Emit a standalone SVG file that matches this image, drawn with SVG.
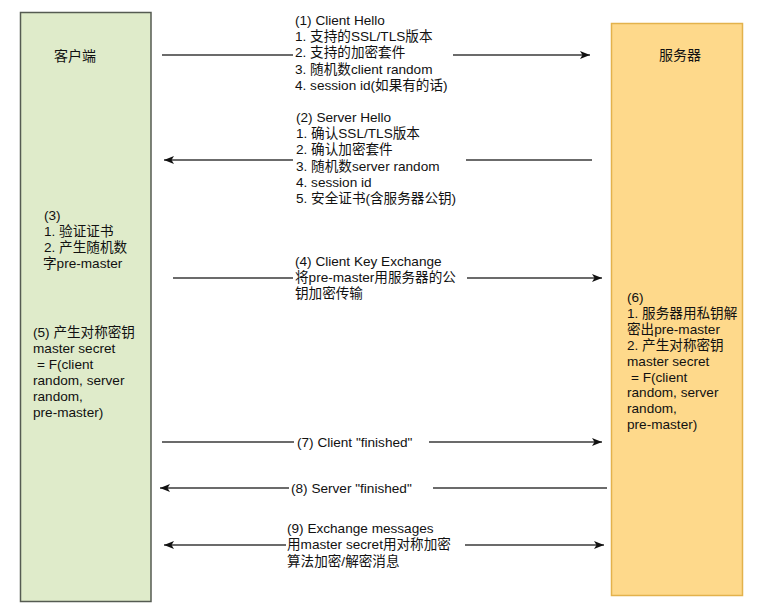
<svg xmlns="http://www.w3.org/2000/svg" width="769" height="616" viewBox="0 0 769 616">
  <style>
    .lbl { font-family: "Liberation Sans", "Noto Sans CJK SC", sans-serif; font-size: 13.6px; fill: #111; }
    .title { font-family: "Liberation Sans", "Noto Sans CJK SC", sans-serif; font-size: 14px; fill: #111; text-anchor: middle; }
    .edge { stroke: #3a3a3a; stroke-width: 1.3; fill: none; }
  </style>
  <defs>
    <marker id="arrowEnd" markerUnits="userSpaceOnUse" markerWidth="12" markerHeight="10" refX="10" refY="4.5" orient="auto">
      <path d="M0,0.5 L10,4.5 L0,8.5 L2.5,4.5 Z" fill="#111"/>
    </marker>
    <marker id="arrowStart" markerUnits="userSpaceOnUse" markerWidth="12" markerHeight="10" refX="0" refY="4.5" orient="auto">
      <path d="M10,0.5 L0,4.5 L10,8.5 L7.5,4.5 Z" fill="#111"/>
    </marker>
  </defs>

  <rect width="769" height="616" fill="#ffffff"/>

  <!-- client column -->
  <g id="client">
    <rect x="20.5" y="12.5" width="130.5" height="589" fill="#dfebca" stroke="#555b52" stroke-width="1.5"/>
    <text class="title" x="75" y="61">客户端</text>
    <text class="lbl" x="44" y="219.5">
      <tspan x="44" y="219.5">(3)</tspan>
      <tspan x="44" y="235.7">1. 验证证书</tspan>
      <tspan x="44" y="251.9">2. 产生随机数</tspan>
      <tspan x="43" y="268.1">字pre-master</tspan>
    </text>
    <text class="lbl" x="33" y="337">
      <tspan x="33" y="337">(5) 产生对称密钥</tspan>
      <tspan x="33" y="353">master secret</tspan>
      <tspan x="37" y="369">= F(client</tspan>
      <tspan x="33" y="385">random, server</tspan>
      <tspan x="33" y="401">random,</tspan>
      <tspan x="33" y="417">pre-master)</tspan>
    </text>
  </g>

  <!-- server column -->
  <g id="server">
    <rect x="611.5" y="23.5" width="131" height="572" fill="#fed98b" stroke="#e3b24c" stroke-width="1.5"/>
    <text class="title" x="680" y="60">服务器</text>
    <text class="lbl" x="627" y="302">
      <tspan x="627" y="302">(6)</tspan>
      <tspan x="627" y="317.9">1. 服务器用私钥解</tspan>
      <tspan x="627" y="333.8">密出pre-master</tspan>
      <tspan x="627" y="349.7">2. 产生对称密钥</tspan>
      <tspan x="627" y="365.6">master secret</tspan>
      <tspan x="631" y="381.5">= F(client</tspan>
      <tspan x="627" y="397.4">random, server</tspan>
      <tspan x="627" y="413.3">random,</tspan>
      <tspan x="627" y="429.2">pre-master)</tspan>
    </text>
  </g>

  <!-- message connectors -->
  <g id="connectors">
    <line class="edge" x1="162" y1="55" x2="293" y2="55"/>
    <line class="edge" x1="453" y1="55" x2="590" y2="55" marker-end="url(#arrowEnd)"/>

    <line class="edge" x1="164" y1="160" x2="293" y2="160" marker-start="url(#arrowStart)"/>
    <line class="edge" x1="466" y1="160" x2="592" y2="160"/>

    <line class="edge" x1="173" y1="278" x2="293" y2="278"/>
    <line class="edge" x1="467" y1="278" x2="602" y2="278" marker-end="url(#arrowEnd)"/>

    <line class="edge" x1="162" y1="442" x2="294" y2="442"/>
    <line class="edge" x1="429" y1="442" x2="602" y2="442" marker-end="url(#arrowEnd)"/>

    <line class="edge" x1="160" y1="488" x2="289" y2="488" marker-start="url(#arrowStart)"/>
    <line class="edge" x1="433" y1="488" x2="607" y2="488"/>

    <line class="edge" x1="164" y1="545" x2="286" y2="545" marker-start="url(#arrowStart)"/>
    <line class="edge" x1="465" y1="545" x2="604" y2="545" marker-end="url(#arrowEnd)"/>
  </g>

  <!-- connector labels -->
  <g id="labels">
    <text class="lbl">
      <tspan x="295" y="25">(1) Client Hello</tspan>
      <tspan x="295" y="41.2">1. 支持的SSL/TLS版本</tspan>
      <tspan x="295" y="57.4">2. 支持的加密套件</tspan>
      <tspan x="295" y="73.6">3. 随机数client random</tspan>
      <tspan x="295" y="89.8">4. session id(如果有的话)</tspan>
    </text>
    <text class="lbl">
      <tspan x="296" y="122">(2) Server Hello</tspan>
      <tspan x="296" y="138.2">1. 确认SSL/TLS版本</tspan>
      <tspan x="296" y="154.4">2. 确认加密套件</tspan>
      <tspan x="296" y="170.6">3. 随机数server random</tspan>
      <tspan x="296" y="186.8">4. session id</tspan>
      <tspan x="296" y="203">5. 安全证书(含服务器公钥)</tspan>
    </text>
    <text class="lbl">
      <tspan x="295" y="266">(4) Client Key Exchange</tspan>
      <tspan x="295" y="282.2">将pre-master用服务器的公</tspan>
      <tspan x="295" y="298.4">钥加密传输</tspan>
    </text>
    <text class="lbl" x="297" y="447">(7) Client "finished"</text>
    <text class="lbl" x="291" y="493">(8) Server "finished"</text>
    <text class="lbl">
      <tspan x="287" y="533">(9) Exchange messages</tspan>
      <tspan x="287" y="549.3">用master secret用对称加密</tspan>
      <tspan x="287" y="565.6">算法加密/解密消息</tspan>
    </text>
  </g>
</svg>
